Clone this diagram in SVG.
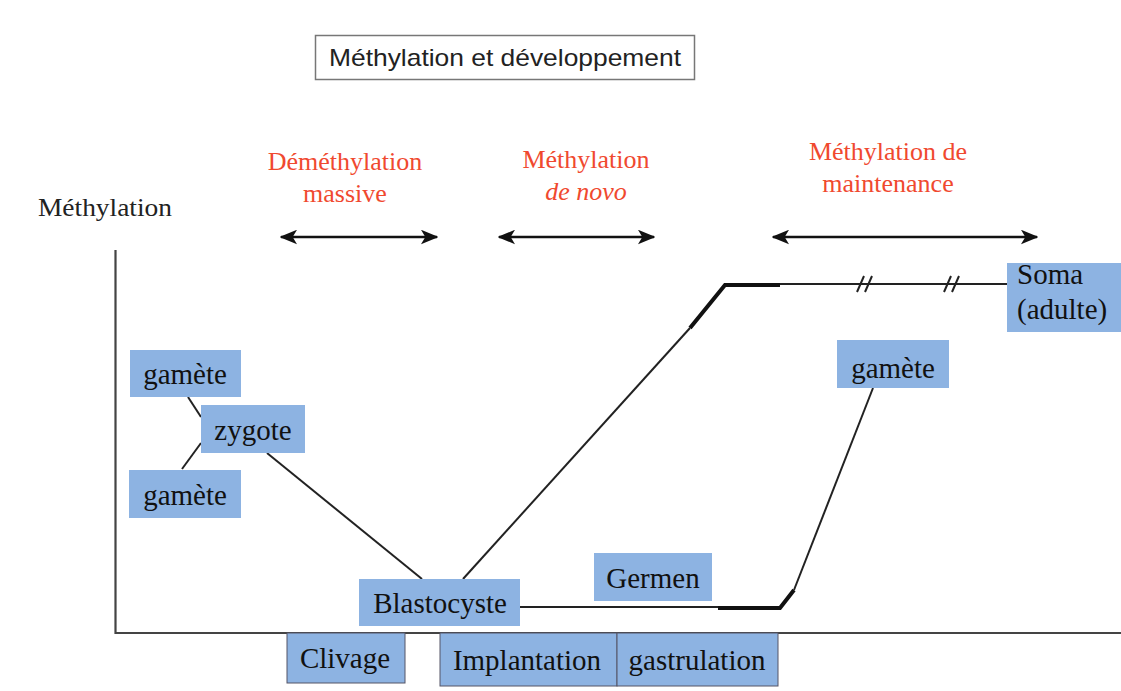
<svg xmlns="http://www.w3.org/2000/svg" width="1121" height="691" viewBox="0 0 1121 691">
<style>
.box{fill:#8db3e2;}
.bt{font-family:"Liberation Serif",serif;font-size:29px;fill:#111;text-anchor:middle;}
.bs{font-family:"Liberation Serif",serif;font-size:29px;fill:#111;text-anchor:start;}
.red{font-family:"Liberation Serif",serif;font-size:26px;fill:#f0492f;text-anchor:middle;}
.ln{stroke:#222;stroke-width:2;fill:none;}
.thick{stroke:#111;stroke-width:4;fill:none;}
.arr{stroke:#111;stroke-width:2.5;fill:none;marker-start:url(#ah);marker-end:url(#ah);}
</style>
<defs>
<marker id="ah" viewBox="0 0 12 10" refX="11" refY="5" markerWidth="7" markerHeight="6" markerUnits="strokeWidth" orient="auto-start-reverse">
<path d="M0,0 L12,5 L0,10 L3,5 Z" fill="#111"/>
</marker>
</defs>
<rect width="1121" height="691" fill="#fff"/>
<g id="title">
<rect x="315.5" y="35.5" width="379" height="44" fill="#fff" stroke="#777" stroke-width="1.5"/>
<text x="505" y="66" font-family="'Liberation Sans',sans-serif" font-size="24" fill="#222" text-anchor="middle" textLength="352" lengthAdjust="spacingAndGlyphs">Méthylation et développement</text>
</g>
<g id="axes">
<text x="38" y="216" font-family="'Liberation Serif',serif" font-size="26" fill="#222" textLength="134" lengthAdjust="spacingAndGlyphs">Méthylation</text>
<path d="M115.5,250 V633 H1121" stroke="#444" stroke-width="2.2" fill="none"/>
</g>
<g id="phases">
<text class="red" x="345" y="170">Déméthylation</text>
<text class="red" x="345" y="202">massive</text>
<text class="red" x="586" y="168">Méthylation</text>
<text class="red" x="586" y="200" font-style="italic">de novo</text>
<text class="red" x="888" y="160">Méthylation de</text>
<text class="red" x="888" y="192">maintenance</text>
</g>
<g id="connectors">
<line class="arr" x1="281" y1="237" x2="437" y2="237"/>
<line class="arr" x1="499" y1="237" x2="654" y2="237"/>
<line class="arr" x1="773" y1="237" x2="1037" y2="237"/>
<line class="ln" x1="188" y1="397" x2="201" y2="417"/>
<line class="ln" x1="201" y1="443" x2="182" y2="469"/>
<line class="ln" x1="267" y1="453" x2="422" y2="579"/>
<line class="ln" x1="463" y1="579" x2="690" y2="328"/>
<path class="thick" d="M690,328 L725,285 H780"/>
<path class="ln" d="M780,284 H1007"/>
<path d="M857,292 L864,276 M865,292 L872,276 M944,292 L951,276 M952,292 L959,276" stroke="#222" stroke-width="2" fill="none"/>
<path class="ln" d="M520,607 H720"/>
<path class="thick" d="M718,608 H780 L794,590"/>
<line class="ln" x1="794" y1="590" x2="873" y2="388"/>
</g>
<g id="gamete1"><rect class="box" x="130" y="350" width="111" height="47"/><text class="bt" x="185" y="384">gamète</text></g>
<g id="zygote"><rect class="box" x="201" y="405" width="104" height="48"/><text class="bt" x="253" y="440">zygote</text></g>
<g id="gamete2"><rect class="box" x="129" y="470" width="112" height="48"/><text class="bt" x="185" y="505">gamète</text></g>
<g id="blastocyste"><rect class="box" x="359" y="579" width="161" height="47"/><text class="bt" x="440" y="613">Blastocyste</text></g>
<g id="germen"><rect class="box" x="594" y="553" width="118" height="48"/><text class="bt" x="653" y="588">Germen</text></g>
<g id="gamete3"><rect class="box" x="837" y="340" width="112" height="48"/><text class="bt" x="893" y="378">gamète</text></g>
<g id="soma"><rect class="box" x="1007" y="263" width="114" height="69"/><text class="bs" x="1017" y="284">Soma</text><text class="bs" x="1017" y="319">(adulte)</text></g>
<g id="clivage"><rect class="box" x="287" y="633" width="118" height="50" stroke="#556" stroke-width="1"/><text class="bt" x="345" y="668">Clivage</text></g>
<g id="implantation"><rect class="box" x="440" y="633" width="177" height="53" stroke="#556" stroke-width="1"/><text class="bt" x="527" y="670">Implantation</text></g>
<g id="gastrulation"><rect class="box" x="617" y="633" width="161" height="53" stroke="#556" stroke-width="1"/><text class="bt" x="697" y="670">gastrulation</text></g>
</svg>
